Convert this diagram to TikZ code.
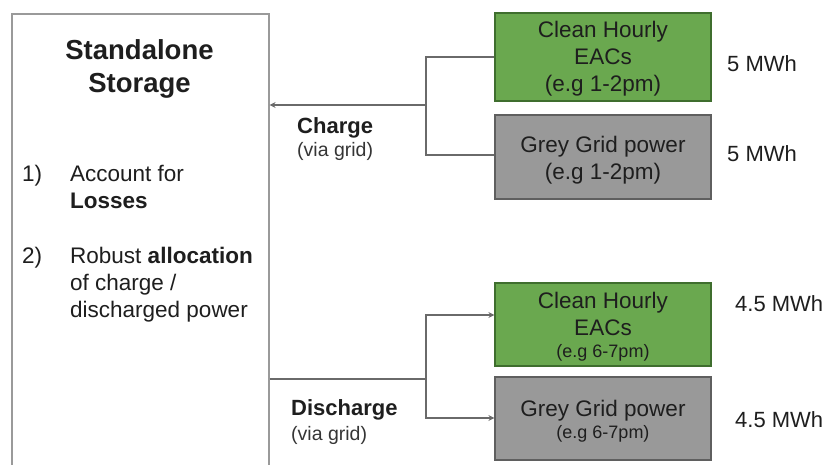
\documentclass[tikz,border=0pt]{standalone}
\usepackage{fontspec}
\setmainfont{Liberation Sans}
\usetikzlibrary{arrows.meta,calc}
\definecolor{greenfill}{HTML}{6AA84F}
\definecolor{greenline}{HTML}{3F6E2E}
\definecolor{greyfill}{HTML}{999999}
\definecolor{greyline}{HTML}{5F5F5F}
\definecolor{boxline}{HTML}{9A9A9A}
\definecolor{conn}{HTML}{6A6A6A}
\definecolor{txt}{HTML}{1E1E1E}
\newcommand{\smalltime}{\fontsize{18}{21}\selectfont}
\begin{document}
\begin{tikzpicture}[x=1pt,y=-1pt,
  body/.style={font=\fontsize{22.5}{27}\selectfont, text=txt, inner sep=0pt},
  srcbox/.style={draw, line width=1.2pt, minimum width=216pt, inner sep=0pt},
  greenbox/.style={srcbox, fill=greenfill, draw=greenline},
  greybox/.style={srcbox, fill=greyfill, draw=greyline},
  boxtext/.style={align=center, text=txt, inner sep=0pt, anchor=base, font=\fontsize{22.5}{27}\selectfont},
  conline/.style={draw=conn, line width=1.3pt},
  arr/.style={conline, -{Stealth[length=6pt,width=6pt]}},
  mwh/.style={font=\fontsize{22}{27}\selectfont, text=txt, inner sep=0pt, anchor=base west},
  lbl/.style={font=\fontsize{22}{27}\selectfont\bfseries, text=txt, inner sep=0pt, anchor=base west},
  sub/.style={font=\fontsize{19.5}{22}\selectfont, text=txt!90, inner sep=0pt, anchor=base west}
]
\clip (0,0) rectangle (828,465);
\fill[white] (0,0) rectangle (828,465);

% left storage box (open at bottom)
\node[draw=boxline, line width=1.6pt, minimum width=257pt, minimum height=480pt, inner sep=0pt, anchor=north west] (store) at (11,13) {};

\node[font=\fontsize{27.5}{33}\selectfont\bfseries, text=txt, align=center, inner sep=0pt, anchor=base] (title) at (139.5,93) {Standalone\\Storage};

\node[body, anchor=base west] (n1) at (22,181.5) {1)};
\node[body, anchor=base west] (t1a) at (70,181.5) {Account for};
\node[body, anchor=base west] (t1b) at (70,209) {\bfseries Losses};
\node[body, anchor=base west] (n2) at (22,263.5) {2)};
\node[body, anchor=base west] (t2a) at (70,263.5) {Robust \textbf{allocation}};
\node[body, anchor=base west] (t2b) at (70,290.5) {of charge /};
\node[body, anchor=base west] (t2c) at (70,317.5) {discharged power};

% source boxes
\node[greenbox, minimum height=88pt] (g1) at (603,57) {};
\node[greybox, minimum height=84pt] (r1) at (603,157) {};
\node[greenbox, minimum height=83pt] (g2) at (603,324.5) {};
\node[greybox, minimum height=83pt] (r2) at (603,418.5) {};
\node[boxtext] (g1t) at (603,92) {Clean Hourly\\EACs\\(e.g 1-2pm)};
\node[boxtext] (r1t) at (603,180) {Grey Grid power\\(e.g 1-2pm)};
\node[boxtext] (g2t) at (603,357) {Clean Hourly\\EACs\\[-5pt]{\smalltime (e.g 6-7pm)}};
\node[boxtext] (r2t) at (603,438) {Grey Grid power\\[-5pt]{\smalltime (e.g 6-7pm)}};

% amounts
\node[mwh] (m1) at (727,72) {5 MWh};
\node[mwh] (m2) at (727,162) {5 MWh};
\node[mwh] (m3) at (735,312) {4.5 MWh};
\node[mwh] (m4) at (735,427) {4.5 MWh};

% charge connectors
\coordinate (cj) at (426,105);
\draw[conline] (g1.west) -| (cj);
\draw[conline] ([yshift=2pt]r1.west) -| (cj);
\draw[arr] (cj) -- (cj -| store.east);

% discharge connectors
\coordinate (dj) at (426,379);
\draw[conline] (store.east |- dj) -- (dj);
\draw[arr] (dj) |- ([yshift=9.5pt]g2.west);
\draw[arr] (dj) |- ([yshift=0.5pt]r2.west);

% labels
\node[lbl] (ch) at (297,134) {Charge};
\node[sub] (chs) at (297,157) {(via grid)};
\node[lbl] (dc) at (291,415) {Discharge};
\node[sub] (dcs) at (291,440) {(via grid)};
\end{tikzpicture}
\end{document}
